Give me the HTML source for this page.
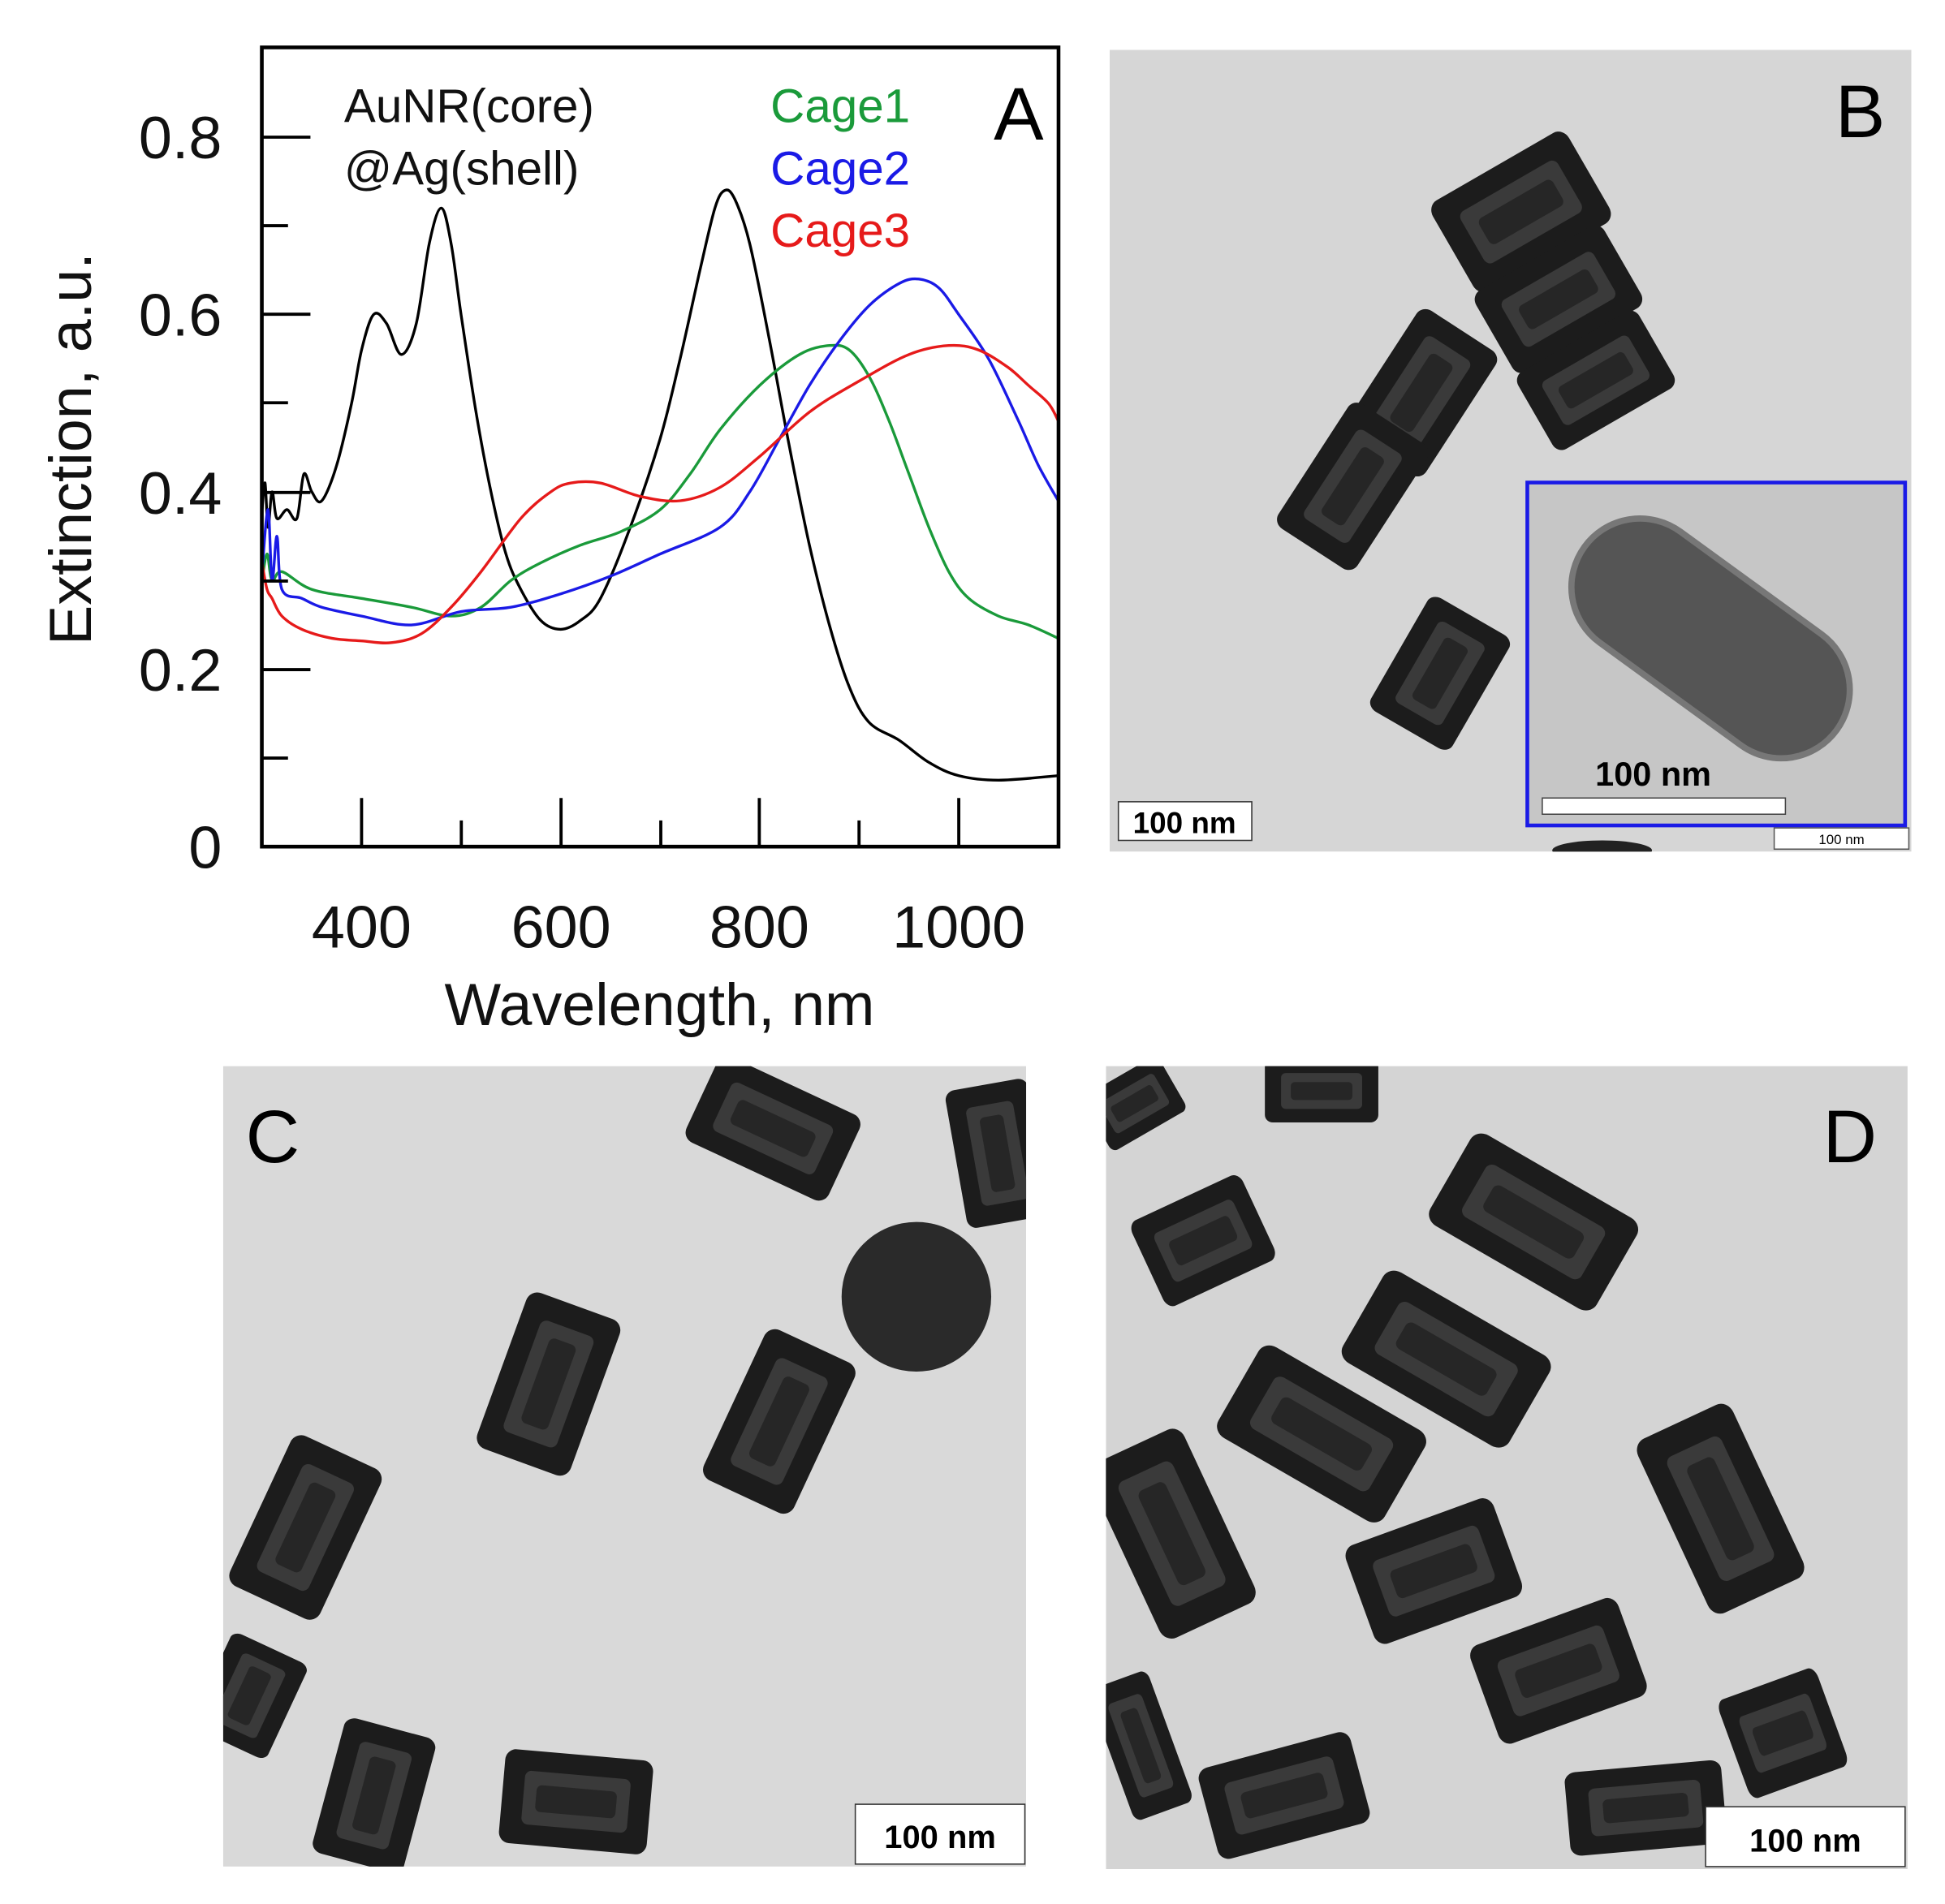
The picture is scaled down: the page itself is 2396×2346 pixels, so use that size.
<!DOCTYPE html>
<html><head><meta charset="utf-8"><style>
html,body{margin:0;padding:0;background:#fff;}
svg{display:block}
text{font-family:"Liberation Sans",sans-serif}
</style></head><body>
<svg id="s" width="2396" height="2346" viewBox="0 0 1560 1527" preserveAspectRatio="none" xmlns="http://www.w3.org/2000/svg">
<rect width="1560" height="1527" fill="#fff"/>
<defs>
<g id="cage"><rect x="-70" y="-42" width="140" height="84" rx="10" fill="#1c1c1c"/><rect x="-50" y="-24" width="100" height="48" rx="6" fill="#3a3a3a"/><rect x="-38" y="-12" width="76" height="24" rx="5" fill="#262626"/></g>
<clipPath id="cB"><rect x="890" y="40" width="643" height="643"/></clipPath>
<clipPath id="cC"><rect x="179" y="855" width="644" height="642"/></clipPath>
<clipPath id="cD"><rect x="887" y="855" width="643" height="644"/></clipPath>
<clipPath id="cA"><rect x="211" y="39" width="637" height="639"/></clipPath>
</defs>
<!-- Panel A -->
<g id="A">
<g id="curves" fill="none" stroke-width="2.2" clip-path="url(#cA)"></g>
<rect x="210" y="38" width="639" height="641" fill="none" stroke="#000" stroke-width="3"/>
<g stroke="#000" stroke-width="2.5">
<line x1="290" y1="679" x2="290" y2="640"/><line x1="450" y1="679" x2="450" y2="640"/><line x1="609" y1="679" x2="609" y2="640"/><line x1="769" y1="679" x2="769" y2="640"/>
<line x1="370" y1="679" x2="370" y2="658"/><line x1="530" y1="679" x2="530" y2="658"/><line x1="689" y1="679" x2="689" y2="658"/>
<line x1="210" y1="537" x2="249" y2="537"/><line x1="210" y1="395" x2="249" y2="395"/><line x1="210" y1="252" x2="249" y2="252"/><line x1="210" y1="110" x2="249" y2="110"/>
<line x1="210" y1="608" x2="231" y2="608"/><line x1="210" y1="466" x2="231" y2="466"/><line x1="210" y1="323" x2="231" y2="323"/><line x1="210" y1="181" x2="231" y2="181"/>
</g>
<g font-size="48" text-anchor="end" fill="#111">
<text x="178" y="696">0</text><text x="178" y="554">0.2</text><text x="178" y="412">0.4</text><text x="178" y="269">0.6</text><text x="178" y="127">0.8</text>
</g>
<g font-size="48" text-anchor="middle" fill="#111">
<text x="290" y="760">400</text><text x="450" y="760">600</text><text x="609" y="760">800</text><text x="769" y="760">1000</text>
<text x="529" y="822">Wavelength, nm</text>
</g>
<text transform="translate(73,360) rotate(-90)" font-size="48" text-anchor="middle" fill="#111">Extinction, a.u.</text>
<text x="276" y="98" font-size="38" fill="#111">AuNR(core)</text>
<text x="276" y="148" font-size="38" fill="#111">@Ag(shell)</text>
<text x="618" y="98" font-size="38" fill="#1a9a3a">Cage1</text>
<text x="618" y="148" font-size="38" fill="#1a1ae6">Cage2</text>
<text x="618" y="198" font-size="38" fill="#e61a1a">Cage3</text>
<text x="797" y="112" font-size="60" fill="#000">A</text>
</g>
<!-- Panel B -->
<g clip-path="url(#cB)">
<rect x="890" y="40" width="643" height="643" fill="#d6d6d6"/>
<use href="#cage" transform="translate(1220,170) rotate(-30) scale(0.9,1)"/>
<use href="#cage" transform="translate(1250,240) rotate(-30) scale(0.85,0.9)"/>
<use href="#cage" transform="translate(1280,305) rotate(-30) scale(0.8,0.85)"/>
<use href="#cage" transform="translate(1140,315) rotate(-57) scale(0.85,0.9)"/>
<use href="#cage" transform="translate(1085,390) rotate(-57) scale(0.85,0.9)"/>
<use href="#cage" transform="translate(1155,540) rotate(-60) scale(0.75,0.9)"/>
<ellipse cx="1285" cy="682" rx="40" ry="8" fill="#222"/>
<rect x="1225" y="387" width="303" height="275" fill="#c6c6c6" stroke="#1a1ae6" stroke-width="3"/>
<rect x="-125" y="-55" width="250" height="110" rx="55" transform="translate(1372,512) rotate(36)" fill="#555" stroke="#777" stroke-width="5"/>
<rect x="1237" y="640" width="195" height="13" fill="#fff" stroke="#444"/>
<text x="1326" y="630" font-size="27" font-weight="bold" text-anchor="middle">100 nm</text>
<rect x="1423" y="664" width="108" height="17" fill="#fff" stroke="#555"/>
<text x="1477" y="677" font-size="11" text-anchor="middle">100 nm</text>
<rect x="897" y="643" width="107" height="31" fill="#fff" stroke="#333"/>
<text x="950" y="668" font-size="24" font-weight="bold" text-anchor="middle">100 nm</text>
<text x="1472" y="110" font-size="60">B</text>
</g>
<!-- Panel C -->
<g clip-path="url(#cC)">
<rect x="179" y="855" width="644" height="642" fill="#d9d9d9"/>
<use href="#cage" transform="translate(620,905) rotate(25) scale(0.9,0.9)"/>
<use href="#cage" transform="translate(800,925) rotate(80) scale(0.8,0.8)"/>
<circle cx="735" cy="1040" r="60" fill="#2a2a2a"/>
<use href="#cage" transform="translate(440,1110) rotate(-70) scale(0.95,0.95)"/>
<use href="#cage" transform="translate(625,1140) rotate(-65) scale(0.95,0.95)"/>
<use href="#cage" transform="translate(245,1225) rotate(-65) scale(0.95,0.95)"/>
<use href="#cage" transform="translate(200,1360) rotate(-65) scale(0.6,0.8)"/>
<use href="#cage" transform="translate(300,1440) rotate(-75) scale(0.8,0.9)"/>
<use href="#cage" transform="translate(462,1445) rotate(5) scale(0.85,0.9)"/>
<rect x="686" y="1447" width="136" height="48" fill="#fff" stroke="#333"/>
<text x="754" y="1482" font-size="26" font-weight="bold" text-anchor="middle">100 nm</text>
<text x="197" y="932" font-size="60">C</text>
</g>
<!-- Panel D -->
<g clip-path="url(#cD)">
<rect x="887" y="855" width="643" height="644" fill="#d4d4d4"/>
<use href="#cage" transform="translate(1060,875) rotate(0) scale(0.65,0.6)"/>
<use href="#cage" transform="translate(910,885) rotate(-30) scale(0.5,0.6)"/>
<use href="#cage" transform="translate(965,995) rotate(-25) scale(0.7,0.9)"/>
<use href="#cage" transform="translate(1230,980) rotate(30) scale(1.1,1)"/>
<use href="#cage" transform="translate(1160,1090) rotate(30) scale(1.1,1)"/>
<use href="#cage" transform="translate(1060,1150) rotate(30) scale(1.1,1)"/>
<use href="#cage" transform="translate(940,1230) rotate(65) scale(1.1,1)"/>
<use href="#cage" transform="translate(1380,1210) rotate(65) scale(1.1,1)"/>
<use href="#cage" transform="translate(1150,1260) rotate(-20) scale(0.9,1)"/>
<use href="#cage" transform="translate(1250,1340) rotate(-20) scale(0.9,1)"/>
<use href="#cage" transform="translate(1430,1390) rotate(-20) scale(0.6,1)"/>
<use href="#cage" transform="translate(1030,1440) rotate(-15) scale(0.9,0.9)"/>
<use href="#cage" transform="translate(1320,1450) rotate(-5) scale(0.9,0.8)"/>
<use href="#cage" transform="translate(915,1400) rotate(70) scale(0.8,0.6)"/>
<rect x="1368" y="1449" width="160" height="48" fill="#fff" stroke="#333"/>
<text x="1448" y="1485" font-size="26" font-weight="bold" text-anchor="middle">100 nm</text>
<text x="1462" y="932" font-size="60">D</text>
</g>
</svg>
<script>
(function(){
var X=function(l){return 290+(l-400)*0.7983},Y=function(v){return 679-711.25*v};
var data={
"#000":[[300,0.38],[303,0.41],[306,0.36],[310,0.40],[315,0.37],[325,0.38],[335,0.37],[342,0.42],[350,0.40],[360,0.39],[375,0.43],[390,0.50],[400,0.56],[412,0.60],[425,0.59],[440,0.555],[455,0.59],[468,0.68],[480,0.72],[490,0.68],[500,0.60],[515,0.49],[530,0.40],[545,0.33],[560,0.29],[580,0.255],[600,0.245],[620,0.255],[640,0.28],[670,0.36],[700,0.46],[720,0.55],[740,0.65],[755,0.72],[765,0.74],[775,0.73],[790,0.68],[810,0.57],[830,0.45],[850,0.34],[870,0.25],[890,0.18],[910,0.14],[940,0.12],[970,0.095],[1000,0.08],[1040,0.075],[1100,0.08]],
"#1a9a3a":[[300,0.30],[305,0.33],[310,0.30],[320,0.31],[350,0.29],[400,0.28],[450,0.27],[490,0.26],[520,0.27],[550,0.30],[580,0.32],[620,0.34],[660,0.355],[700,0.38],[730,0.42],[760,0.47],[800,0.52],[840,0.555],[870,0.565],[890,0.56],[910,0.53],[930,0.48],[950,0.42],[970,0.36],[990,0.31],[1010,0.28],[1040,0.26],[1070,0.25],[1100,0.235]],
"#1a1ae6":[[300,0.31],[306,0.38],[310,0.30],[315,0.35],[320,0.29],[340,0.28],[360,0.27],[400,0.26],[450,0.25],[500,0.265],[550,0.27],[600,0.285],[650,0.305],[700,0.33],[760,0.36],[790,0.40],[820,0.46],[850,0.52],[880,0.57],[910,0.61],[940,0.635],[960,0.64],[980,0.63],[1000,0.60],[1030,0.55],[1060,0.48],[1080,0.43],[1100,0.39]],
"#e61a1a":[[300,0.32],[305,0.29],[310,0.28],[320,0.26],[340,0.245],[370,0.235],[400,0.232],[430,0.23],[460,0.24],[490,0.27],[520,0.31],[560,0.37],[590,0.40],[610,0.41],[640,0.41],[680,0.395],[720,0.39],[760,0.405],[800,0.44],[850,0.49],[900,0.525],[950,0.555],[990,0.565],[1020,0.56],[1050,0.54],[1070,0.52],[1090,0.50],[1100,0.48]]};
var g=document.getElementById('curves'),ns="http://www.w3.org/2000/svg";
for(var c in data){var p=data[c].map(function(q){return [X(q[0]),Y(q[1])]});
var d="M"+p[0][0]+","+p[0][1];
for(var i=0;i<p.length-1;i++){var p0=p[Math.max(0,i-1)],p1=p[i],p2=p[i+1],p3=p[Math.min(p.length-1,i+2)];
var c1x=p1[0]+(p2[0]-p0[0])/6,c1y=p1[1]+(p2[1]-p0[1])/6,c2x=p2[0]-(p3[0]-p1[0])/6,c2y=p2[1]-(p3[1]-p1[1])/6;
d+=" C"+c1x.toFixed(1)+","+c1y.toFixed(1)+" "+c2x.toFixed(1)+","+c2y.toFixed(1)+" "+p2[0].toFixed(1)+","+p2[1].toFixed(1);}
var e=document.createElementNS(ns,"path");e.setAttribute("d",d);e.setAttribute("stroke",c);e.setAttribute("stroke-linejoin","round");g.appendChild(e);}
})();
</script>
</body></html>
